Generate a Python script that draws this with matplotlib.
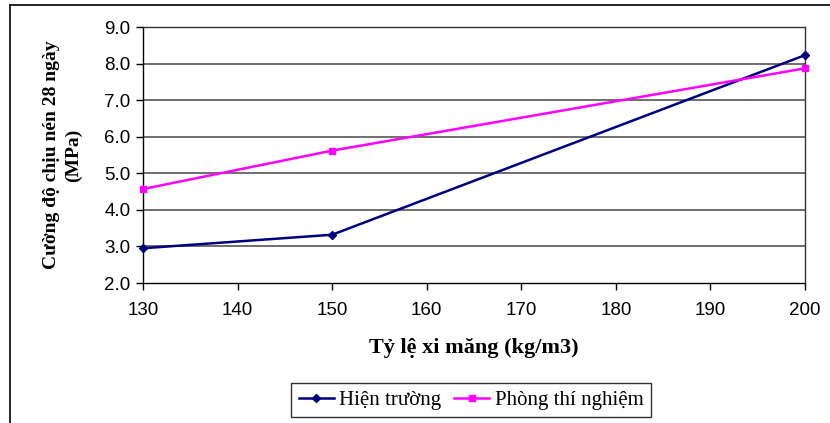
import matplotlib.pyplot as plt
import matplotlib as mpl
from matplotlib.lines import Line2D

mpl.rcParams['font.family'] = ['Liberation Sans', 'DejaVu Sans']

ti_le = [130, 150, 200]
hien_truong = [2.95, 3.32, 8.23]
phong_tn = [4.57, 5.62, 7.87]
x_ticks = [130, 140, 150, 160, 170, 180, 190, 200]
y_ticks = [2.0, 3.0, 4.0, 5.0, 6.0, 7.0, 8.0, 9.0]

fig = plt.figure(figsize=(8.3, 4.23), dpi=100)
W, H = 830, 423
ax = fig.add_axes([143 / W, 1 - 283 / H, (805 - 143) / W, (283 - 27) / H])

# khung ngoai
fig.add_artist(Line2D([10 / W, 10 / W], [0, 1 - 5 / H], color='black', lw=1.2))
fig.add_artist(Line2D([10 / W, 1], [1 - 5 / H, 1 - 5 / H], color='black', lw=1.2))

for y in y_ticks[1:-1]:
    ax.axhline(y, color='#555555', lw=1.2, zorder=0)

ax.plot(ti_le, hien_truong, '-D', color='#000080', lw=1.8, ms=4.5, label='Hiện trường', clip_on=False, zorder=3)
ax.plot(ti_le, phong_tn, '-s', color='#FF00FF', lw=1.8, ms=5, label='Phòng thí nghiệm', clip_on=False, zorder=3)

ax.set_xlim(130, 200)
ax.set_ylim(2, 9)
ax.set_xticks(x_ticks)
ax.set_yticks(y_ticks)
ax.set_yticklabels(['%.1f' % v for v in y_ticks])
ax.tick_params(axis='both', direction='out', length=5, width=1, labelsize=13.5, pad=4)
ax.tick_params(axis='x', pad=9)
for s in ax.spines.values():
    s.set_linewidth(1)
    s.set_color('#333333')
ax.spines['left'].set_color('black')
ax.spines['bottom'].set_color('black')

serif = ['Liberation Serif', 'DejaVu Serif']
ax.set_xlabel('Tỷ lệ xi măng (kg/m3)', family=serif, fontweight='bold', fontsize=16, labelpad=13)
ax.set_ylabel('Cường độ chịu nén 28 ngày\n(MPa)', family=serif, fontweight='bold', fontsize=14,
              labelpad=16, linespacing=1.35)

leg = fig.legend(loc='center', bbox_to_anchor=(471 / W, 1 - 400 / H), ncol=2, frameon=True,
                 fancybox=False, edgecolor='black', prop={'family': serif, 'size': 15},
                 handlelength=1.7, columnspacing=0.6, handletextpad=0.25, borderpad=0.35)
leg.get_frame().set_linewidth(1)

fig.savefig('out.png', dpi=100)
